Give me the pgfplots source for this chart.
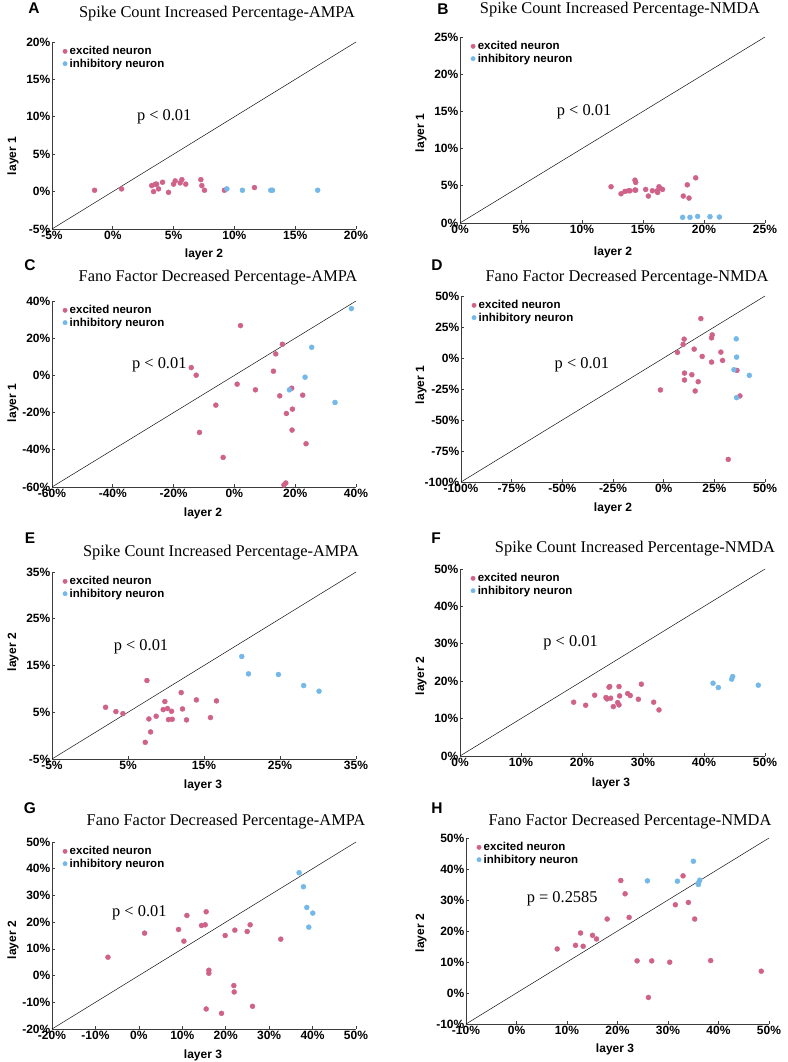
\documentclass[border=0pt]{standalone}
\usepackage{pgfplots}
\pgfplotsset{compat=1.18}
\usepackage{fontspec}
\setmainfont{Liberation Serif}
\setsansfont{Liberation Sans}

\definecolor{excc}{RGB}{208,98,138}
\definecolor{inhc}{RGB}{115,184,232}
\definecolor{axgray}{RGB}{60,60,60}

\tikzset{ptext/.style={font=\rmfamily\fontsize{16.4}{18}\selectfont, anchor=west}}
\pgfplotsset{
  panel/.style={
    scale only axis, width=304pt, height=187pt, anchor=south west,
    axis x line*=bottom, axis y line*=left,
    axis line style={axgray, line width=0.9pt},
    tick align=inside, major tick length=2.5pt,
    tick style={axgray, line width=0.7pt},
    clip=false,
    /pgf/number format/assume math mode=true,
    ticklabel style={font=\sffamily\bfseries\fontsize{12}{12}\selectfont, text=black, inner sep=1.5pt},
    xticklabel={\pgfmathprintnumber{\tick}\%},
    yticklabel={\pgfmathprintnumber{\tick}\%},
    legend style={draw=none, fill=none, at={(axis description cs:0.035,0.98)}, anchor=north west,
      font=\sffamily\bfseries\fontsize{11.5}{12}\selectfont, inner sep=0pt, row sep=1.5pt, column sep=2.5pt,
      nodes={inner xsep=0pt, inner ysep=0.5pt}},
    legend cell align=left,
    legend image code/.code={\draw[#1, mark size=2.2pt] plot coordinates {(0pt,0pt)};},
  },
  excp/.style={only marks, mark=*, mark size=2.5pt, color=excc, mark options={draw=none, fill=excc}},
  inhp/.style={only marks, mark=*, mark size=2.5pt, color=inhc, mark options={draw=none, fill=inhc}},
  diag/.style={black, line width=0.45pt, forget plot},
}
\newcommand{\ttl}[3]{\node[font=\rmfamily\fontsize{16.4}{18}\selectfont] at (#1pt,#2pt) {#3};}
\newcommand{\lett}[3]{\node[font=\sffamily\bfseries\fontsize{15.5}{16}\selectfont] at (#1pt,#2pt) {#3};}
\newcommand{\xlab}[3]{\node[font=\sffamily\bfseries\fontsize{12}{12}\selectfont] at (#1pt,#2pt) {#3};}
\newcommand{\ylab}[3]{\node[rotate=90, font=\sffamily\bfseries\fontsize{12}{12}\selectfont] at (#1pt,#2pt) {#3};}

\begin{document}
\begin{tikzpicture}
\useasboundingbox (0,0) rectangle (787pt,1062pt);

% ---------- A ----------
\begin{axis}[panel, at={(52pt,833pt)},
  xmin=-5, xmax=20, ymin=-5, ymax=20,
  xtick={-5,0,5,10,15,20}, ytick={-5,0,5,10,15,20}]
\addplot[excp] coordinates {(-1.5,0.18) (0.72,0.36) (3.2,0.8) (3.35,0.0) (3.5,0.98) (3.6,1.0) (3.76,0.36) (4.09,1.25) (4.58,-0.1) (5.0,1.0) (5.13,1.43) (5.54,1.16) (5.68,1.6) (6.0,1.0) (7.24,1.6) (7.32,0.8) (7.54,0.18) (9.18,0.18) (11.65,0.54)};
\addlegendentry{excited neuron}
\addplot[inhp] coordinates {(9.38,0.36) (10.66,0.18) (12.99,0.18) (13.13,0.18) (16.85,0.18)};
\addlegendentry{inhibitory neuron}
\addplot[diag] coordinates {(-5,-5) (20,20)};
\node[ptext] at (axis cs:1.7,10.05) {p < 0.01};
\end{axis}

% ---------- B ----------
\begin{axis}[panel, at={(460pt,839pt)}, width=305pt, height=186pt,
  xmin=0, xmax=25, ymin=0, ymax=25,
  xtick={0,5,10,15,20,25}, ytick={0,5,10,15,20,25}]
\addplot[excp] coordinates {(12.38,4.87) (13.2,3.93) (13.52,4.24) (13.8,4.33) (13.93,4.33) (14.34,4.42) (14.34,5.76) (14.4,5.45) (14.4,4.42) (15.22,4.51) (15.44,3.62) (15.77,4.33) (16.17,4.33) (16.2,4.1) (16.31,4.87) (16.4,4.69) (16.6,4.51) (18.3,3.62) (18.63,5.13) (18.77,3.35) (19.32,6.07)};
\addlegendentry{excited neuron}
\addplot[inhp] coordinates {(18.25,0.76) (18.85,0.76) (19.48,0.89) (20.49,0.85) (21.26,0.80)};
\addlegendentry{inhibitory neuron}
\addplot[diag] coordinates {(0,0) (25,25)};
\node[ptext] at (axis cs:7.65,14.96) {p < 0.01};
\end{axis}

% ---------- C ----------
\begin{axis}[panel, at={(52pt,575pt)}, height=186pt,
  xmin=-60, xmax=40, ymin=-60, ymax=40,
  xtick={-60,-40,-20,0,20,40}, ytick={-60,-40,-20,0,20,40}]
\addplot[excp] coordinates {(2.0,26.76) (15.8,16.74) (13.6,11.56) (-14.2,4.2) (-12.57,0.11) (12.84,2.25) (0.9,-4.72) (6.92,-7.76) (18.86,-6.87) (14.92,-10.98) (22.47,-10.63) (-6.11,-16.0) (17.1,-20.47) (19.08,-18.14) (18.97,-29.4) (-11.48,-30.66) (23.57,-36.74) (-3.7,-44.1) (16.9,-57.85) (16.3,-58.9)};
\addlegendentry{excited neuron}
\addplot[inhp] coordinates {(38.47,35.9) (25.43,15.1) (23.24,-0.97) (18.1,-7.76) (33.1,-14.56)};
\addlegendentry{inhibitory neuron}
\addplot[diag] coordinates {(-60,-60) (40,40)};
\node[ptext] at (axis cs:-34.8,5.65) {p < 0.01};
\end{axis}

% ---------- D ----------
\begin{axis}[panel, at={(461pt,580pt)}, height=186pt,
  xmin=-100, xmax=50, ymin=-100, ymax=50,
  xtick={-100,-75,-50,-25,0,25,50}, ytick={-100,-75,-50,-25,0,25,50}]
\addplot[excp] coordinates {(18.35,31.78) (23.95,18.66) (23.62,16.25) (10.1,15.17) (9.6,10.9) (6.8,4.5) (15.05,7.14) (19.0,1.25) (28.23,4.73) (29.06,-1.97) (23.62,-3.3) (36.15,-10.0) (10.27,-12.15) (13.9,-13.5) (10.27,-17.77) (17.03,-19.1) (-1.6,-25.8) (15.55,-26.6) (37.63,-30.6) (31.86,-81.8)};
\addlegendentry{excited neuron}
\addplot[inhp] coordinates {(35.8,15.44) (35.98,0.7) (34.66,-9.47) (42.25,-14.0) (35.98,-31.97)};
\addlegendentry{inhibitory neuron}
\addplot[diag] coordinates {(-100,-100) (50,50)};
\node[ptext] at (axis cs:-55.5,-5.7) {p < 0.01};
\end{axis}

% ---------- E ----------
\begin{axis}[panel, at={(52pt,303pt)},
  xmin=-5, xmax=35, ymin=-5, ymax=35,
  xtick={-5,5,15,25,35}, ytick={-5,5,15,25,35}]
\addplot[excp] coordinates {(2.05,6.07) (3.41,5.14) (4.33,4.71) (7.49,11.79) (7.75,3.57) (7.97,0.79) (7.27,-1.43) (8.71,4.14) (9.63,5.57) (9.85,7.29) (10.2,5.79) (10.33,3.43) (10.73,5.21) (10.82,3.5) (12.0,9.21) (12.17,5.71) (12.7,3.36) (14.0,7.64) (15.85,3.86) (16.64,7.43)};
\addlegendentry{excited neuron}
\addplot[inhp] coordinates {(19.97,16.93) (20.85,13.21) (24.79,13.07) (28.12,10.71) (30.14,9.5)};
\addlegendentry{inhibitory neuron}
\addplot[diag] coordinates {(-5,-5) (35,35)};
\node[ptext] at (axis cs:2.67,19.07) {p < 0.01};
\end{axis}

% ---------- F ----------
\begin{axis}[panel, at={(460pt,306pt)}, width=305pt,
  xmin=0, xmax=50, ymin=0, ymax=50,
  xtick={0,10,20,30,40,50}, ytick={0,10,20,30,40,50}]
\addplot[excp] coordinates {(18.63,14.38) (20.6,13.57) (22.08,16.25) (23.93,15.63) (24.1,15.27) (24.43,18.4) (24.54,18.57) (24.7,15.45) (25.14,13.21) (25.85,14.29) (26.07,13.66) (26.07,18.57) (26.17,16.07) (27.49,16.7) (27.92,16.16) (29.24,15.18) (29.73,19.2) (31.75,14.38) (32.62,12.32)};
\addlegendentry{excited neuron}
\addplot[inhp] coordinates {(41.48,19.46) (42.35,18.3) (44.54,20.54) (44.7,21.25) (48.9,18.93)};
\addlegendentry{inhibitory neuron}
\addplot[diag] coordinates {(0,0) (50,50)};
\node[ptext] at (axis cs:13.1,30.2) {p < 0.01};
\end{axis}

% ---------- G ----------
\begin{axis}[panel, at={(52pt,33pt)},
  xmin=-20, xmax=50, ymin=-20, ymax=50,
  xtick={-20,-10,0,10,20,30,40,50}, ytick={-20,-10,0,10,20,30,40,50}]
\addplot[excp] coordinates {(-7.12,6.88) (1.32,15.88) (9.14,17.25) (10.37,12.88) (11.06,22.5) (14.43,18.75) (15.28,19.0) (15.5,23.88) (16.12,2.0) (16.12,0.88) (19.88,15.0) (22.1,17.0) (21.87,-3.75) (21.95,-6.13) (24.94,16.5) (25.63,19.0) (15.5,-12.5) (19.03,-14.13) (26.17,-11.5) (32.68,13.63)};
\addlegendentry{excited neuron}
\addplot[inhp] coordinates {(36.9,38.5) (37.9,33.25) (38.67,25.5) (40.05,23.38) (39.13,18.13)};
\addlegendentry{inhibitory neuron}
\addplot[diag] coordinates {(-20,-20) (50,50)};
\node[ptext] at (axis cs:-6.96,23.4) {p < 0.01};
\end{axis}

% ---------- H ----------
\begin{axis}[panel, at={(466pt,38pt)}, width=303pt, height=186pt,
  xmin=-10, xmax=50, ymin=-10, ymax=50,
  xtick={-10,0,10,20,30,40,50}, ytick={-10,0,10,20,30,40,50}]
\addplot[excp] coordinates {(8.06,14.21) (11.69,15.39) (12.68,19.36) (13.2,15.07) (15.05,18.61) (15.84,17.43) (17.95,23.86) (20.65,36.29) (21.51,32.0) (22.3,24.39) (23.88,10.36) (26.78,10.36) (26.12,-1.43) (30.34,9.93) (31.46,28.46) (32.98,37.79) (34.03,29.21) (35.29,23.86) (38.45,10.46) (48.47,7.03)};
\addlegendentry{excited neuron}
\addplot[inhp] coordinates {(25.93,36.18) (31.86,36.07) (35.02,42.5) (36.28,36.39) (36.08,35.64) (36.01,35.0)};
\addlegendentry{inhibitory neuron}
\addplot[diag] coordinates {(-10,-10) (50,50)};
\node[ptext] at (axis cs:1.34,30.5) {p = 0.2585};
\end{axis}

% ---------- titles, letters, labels ----------
\lett{34}{1054}{A} \lett{443}{1053}{B} \lett{30}{797}{C} \lett{437}{797}{D}
\lett{30}{524}{E} \lett{436}{524}{F} \lett{30}{254}{G} \lett{437}{254}{H}

\ttl{217}{1048}{Spike Count Increased Percentage-AMPA}
\ttl{620}{1052}{Spike Count Increased Percentage-NMDA}
\ttl{218}{784}{Fano Factor Decreased Percentage-AMPA}
\ttl{627}{784}{Fano Factor Decreased Percentage-NMDA}
\ttl{221}{509}{Spike Count Increased Percentage-AMPA}
\ttl{635}{513}{Spike Count Increased Percentage-NMDA}
\ttl{226}{240}{Fano Factor Decreased Percentage-AMPA}
\ttl{630}{240}{Fano Factor Decreased Percentage-NMDA}

\xlab{204}{808}{layer 2} \xlab{613}{810}{layer 2}
\xlab{203}{549}{layer 2} \xlab{613}{554}{layer 2}
\xlab{203}{277}{layer 3} \xlab{611}{279}{layer 3}
\xlab{203}{7}{layer 3} \xlab{615}{13}{layer 3}

\ylab{13}{906}{layer 1} \ylab{421}{929}{layer 1}
\ylab{13}{659}{layer 1} \ylab{421}{677}{layer 1}
\ylab{13}{410}{layer 2} \ylab{421}{386}{layer 2}
\ylab{13}{122}{layer 2} \ylab{421}{129}{layer 2}
\end{tikzpicture}
\end{document}
